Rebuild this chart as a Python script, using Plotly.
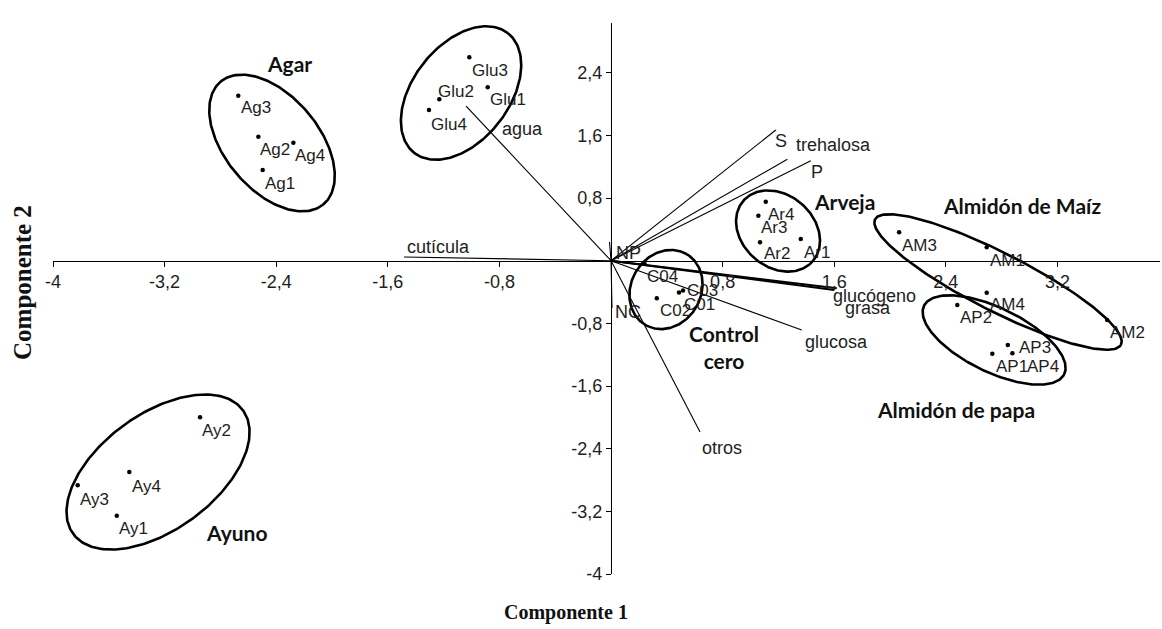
import numpy as np
import plotly.graph_objects as go

# ---------------- data (PCA biplot) ----------------
obs_names = ["Ag1", "Ag2", "Ag3", "Ag4", "Glu1", "Glu2", "Glu3", "Glu4",
             "Ay1", "Ay2", "Ay3", "Ay4", "C01", "C02", "C03", "C04",
             "Ar1", "Ar2", "Ar3", "Ar4", "AM1", "AM2", "AM3", "AM4",
             "AP1", "AP2", "AP3", "AP4"]
comp1 = [-2.497, -2.528, -2.672, -2.277, -0.884, -1.231, -1.016, -1.305,
         -3.543, -2.946, -3.823, -3.453, 0.487, 0.328, 0.516, 0.239,
         1.360, 1.068, 1.056, 1.109, 2.693, 3.556, 2.065, 2.693,
         2.733, 2.482, 2.844, 2.877]
comp2 = [1.158, 1.583, 2.107, 1.507, 2.214, 2.061, 2.597, 1.924,
         -3.256, -2.000, -2.868, -2.698, -0.406, -0.480, -0.380, -0.033,
         0.277, 0.235, 0.575, 0.753, 0.171, -0.757, 0.363, -0.409,
         -1.187, -0.566, -1.076, -1.182]

var_names = ["agua", "cutícula", "S", "trehalosa", "P", "glucógeno", "grasa",
             "glucosa", "otros", "NP", "NC"]
var_c1 = [-1.039, -1.484, 1.181, 1.264, 1.432, 1.618, 1.599, 1.367, 0.638, -0.011, 0.007]
var_c2 = [1.975, 0.047, 1.669, 1.295, 1.277, -0.352, -0.374, -0.885, -2.187, 0.239, -0.604]

group_names = ["Agar", "Glucosa", "Arveja", "Almidón de Maíz", "Control<br>cero",
               "Almidón de papa", "Ayuno"]
group_c1 = [-2.308, -1.247, 1.670, 2.946, 0.810, 2.470, -2.683]
group_c2 = [2.520, 3.099, 0.753, 0.711, -1.102, -1.906, -3.468]

# grouping ellipses: centre (data units)
ell_c1 = [-2.430, -1.075, -3.247, 0.394, 1.197, 2.774, 2.746]
ell_c2 = [1.503, 2.141, -2.698, -0.368, 0.379, -0.272, -1.012]

x_ticks = [-4, -3.2, -2.4, -1.6, -0.8, 0.8, 1.6, 2.4, 3.2]
x_ticktext = ["-4", "-3,2", "-2,4", "-1,6", "-0,8", "0,8", "1,6", "2,4", "3,2"]
y_ticks = [-4, -3.2, -2.4, -1.6, -0.8, 0.8, 1.6, 2.4]
y_ticktext = ["-4", "-3,2", "-2,4", "-1,6", "-0,8", "0,8", "1,6", "2,4"]

# ---------------- styles / layout geometry ----------------
W, H = 1162, 629
M = dict(l=53, r=2, t=23, b=55)
X_RANGE = [-4, 3.935]
Y_RANGE = [-4, 3.035]
SX = (W - M["l"] - M["r"]) / (X_RANGE[1] - X_RANGE[0])
SY = (H - M["t"] - M["b"]) / (Y_RANGE[1] - Y_RANGE[0])

# ellipse semi-axes (px) and tilt (deg)
ell_a = [80, 76, 105, 41, 46, 138, 78]
ell_b = [47, 48, 58, 35, 36, 29, 32]
ell_t = [-50, 52, 36, 60, -41, -27, -26]

# label offsets in px (dx, dy up-positive) from each point
obs_off = [(0, -13), (0, -13), (1, -12), (0, -13), (0, -12), (-3, 8), (1, -13), (0, -14),
           (0, -13), (0, -13), (0, -14), (1, -14), (3, -12), (1, -12), (2, 0), (1, -13),
           (1, -13), (2, -11), (1, -12), (0, -13), (1, -13), (1, -12), (1, -13), (1, -12),
           (2, -13), (1, -12), (9, -3), (13, -13)]
var_off = [("left", 34, -23), ("left", 1, 10), ("center", 5, -11), ("left", 7, 14),
           ("center", 6, -11), ("left", -6, -8), ("left", 9, -18), ("left", 1, -12),
           ("center", 22, -16), ("left", 4, -11), ("left", 1, -4)]

SANS = "Liberation Sans"
TXT = "#1e1e1e"

fig = go.Figure()

# vectors
thick = {"glucógeno", "grasa"}
for name, vx, vy in zip(var_names, var_c1, var_c2):
    fig.add_trace(go.Scatter(x=[0, vx], y=[0, vy], mode="lines",
                             line=dict(color="black", width=2.0 if name in thick else 1.1),
                             hoverinfo="skip", showlegend=False))

# ellipses
t = np.linspace(0, 2 * np.pi, 241)
for cx, cy, a, b, th in zip(ell_c1, ell_c2, ell_a, ell_b, ell_t):
    r = np.deg2rad(th)
    px = a * np.cos(t) * np.cos(r) - b * np.sin(t) * np.sin(r)
    py = a * np.cos(t) * np.sin(r) + b * np.sin(t) * np.cos(r)
    fig.add_trace(go.Scatter(x=cx + px / SX, y=cy + py / SY, mode="lines",
                             line=dict(color="black", width=2.6),
                             hoverinfo="skip", showlegend=False))

# observation points
fig.add_trace(go.Scatter(x=comp1, y=comp2, mode="markers",
                         marker=dict(color="black", size=4.5),
                         showlegend=False, cliponaxis=False))

annotations = []
for name, x, y, (dx, dy) in zip(obs_names, comp1, comp2, obs_off):
    annotations.append(dict(x=x, y=y, text=name, showarrow=False, xanchor="left",
                            yanchor="middle", xshift=dx, yshift=dy,
                            font=dict(family=SANS, size=17, color=TXT)))
for name, x, y, (anc, dx, dy) in zip(var_names, var_c1, var_c2, var_off):
    annotations.append(dict(x=x, y=y, text=name, showarrow=False, xanchor=anc,
                            yanchor="middle", xshift=dx, yshift=dy,
                            font=dict(family=SANS, size=18, color=TXT)))
for name, x, y in zip(group_names, group_c1, group_c2):
    annotations.append(dict(x=x, y=y, text=name, showarrow=False, xanchor="center",
                            yanchor="middle",
                            font=dict(family="Lato", size=21, color="#111", weight="bold")))

plot_h = H - M["t"] - M["b"]
plot_w = W - M["l"] - M["r"]
annotations.append(dict(xref="paper", yref="paper", x=(566 - M["l"]) / plot_w,
                        y=(H - M["b"] - 612) / plot_h, text="Componente 1", showarrow=False,
                        xanchor="center", yanchor="middle",
                        font=dict(family="Liberation Serif", size=20, color="#111", weight="bold")))
annotations.append(dict(xref="paper", yref="paper", x=(22 - M["l"]) / plot_w,
                        y=(H - M["b"] - 283) / plot_h, text="Componente 2", showarrow=False,
                        xanchor="center", yanchor="middle", textangle=-90,
                        font=dict(family="Liberation Serif", size=25, color="#111", weight="bold")))

axis_common = dict(showgrid=False, zeroline=False, showline=True, linecolor="black",
                   linewidth=1.3, ticks="outside", ticklen=5, tickwidth=1.2,
                   tickcolor="black", tickfont=dict(family=SANS, size=18, color=TXT),
                   anchor="free")

fig.update_layout(
    width=W, height=H, margin=M,
    paper_bgcolor="white", plot_bgcolor="white",
    showlegend=False,
    xaxis=dict(range=X_RANGE, tickvals=x_ticks, ticktext=x_ticktext,
               position=(0 - Y_RANGE[0]) / (Y_RANGE[1] - Y_RANGE[0]), **axis_common),
    yaxis=dict(range=Y_RANGE, tickvals=y_ticks, ticktext=y_ticktext,
               position=(0 - X_RANGE[0]) / (X_RANGE[1] - X_RANGE[0]), **axis_common),
    annotations=annotations,
)

fig.write_html("out.html")
